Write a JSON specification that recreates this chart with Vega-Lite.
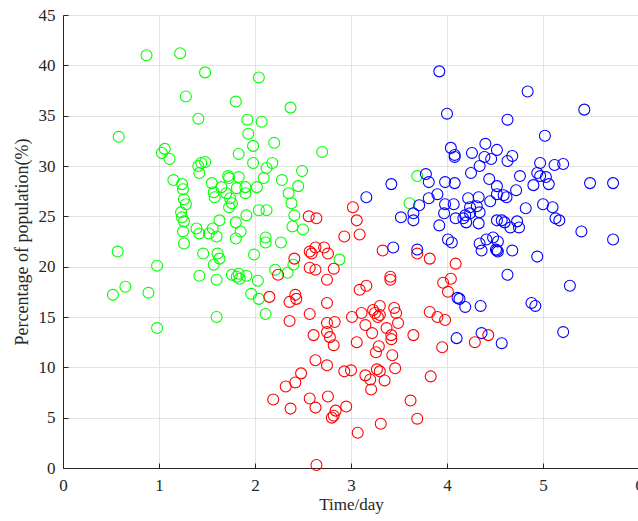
{
  "$schema": "https://vega.github.io/schema/vega-lite/v6.json",
  "width": 576,
  "height": 453,
  "autosize": {"type": "none"},
  "padding": {"left": 63, "top": 15, "right": 0, "bottom": 53},
  "background": "white",
  "config": {
    "view": {"stroke": null},
    "font": "Liberation Serif"
  },
  "datasets": {
    "pts": [
      {"x":0.87,"y":41.0,"c":"g"},{"x":1.22,"y":41.2,"c":"g"},{"x":1.28,"y":36.9,"c":"g"},{"x":0.58,"y":32.9,"c":"g"},
      {"x":1.06,"y":31.7,"c":"g"},{"x":1.03,"y":31.3,"c":"g"},{"x":1.11,"y":30.7,"c":"g"},{"x":1.15,"y":28.6,"c":"g"},
      {"x":1.24,"y":28.2,"c":"g"},{"x":1.25,"y":27.7,"c":"g"},{"x":1.48,"y":39.3,"c":"g"},{"x":2.04,"y":38.8,"c":"g"},
      {"x":1.80,"y":36.4,"c":"g"},{"x":2.37,"y":35.8,"c":"g"},{"x":1.41,"y":34.7,"c":"g"},{"x":1.92,"y":34.6,"c":"g"},
      {"x":2.07,"y":34.4,"c":"g"},{"x":1.93,"y":33.2,"c":"g"},{"x":2.20,"y":32.3,"c":"g"},{"x":1.98,"y":32.0,"c":"g"},
      {"x":2.70,"y":31.4,"c":"g"},{"x":1.83,"y":31.2,"c":"g"},{"x":1.41,"y":30.0,"c":"g"},{"x":1.48,"y":30.4,"c":"g"},
      {"x":1.44,"y":30.3,"c":"g"},{"x":1.42,"y":29.3,"c":"g"},{"x":1.98,"y":30.3,"c":"g"},{"x":2.18,"y":30.3,"c":"g"},
      {"x":2.12,"y":29.8,"c":"g"},{"x":2.49,"y":29.5,"c":"g"},{"x":1.72,"y":29.0,"c":"g"},{"x":1.73,"y":28.8,"c":"g"},
      {"x":1.83,"y":28.9,"c":"g"},{"x":2.09,"y":28.8,"c":"g"},{"x":2.28,"y":28.6,"c":"g"},{"x":1.55,"y":28.3,"c":"g"},
      {"x":2.45,"y":28.0,"c":"g"},{"x":1.65,"y":27.9,"c":"g"},{"x":1.90,"y":27.9,"c":"g"},{"x":2.02,"y":27.9,"c":"g"},
      {"x":1.26,"y":26.7,"c":"g"},{"x":1.28,"y":26.2,"c":"g"},{"x":1.23,"y":25.4,"c":"g"},{"x":1.24,"y":24.9,"c":"g"},
      {"x":1.26,"y":24.5,"c":"g"},{"x":1.25,"y":23.5,"c":"g"},{"x":1.26,"y":22.3,"c":"g"},{"x":0.57,"y":21.5,"c":"g"},
      {"x":0.98,"y":20.1,"c":"g"},{"x":0.65,"y":18.0,"c":"g"},{"x":0.52,"y":17.2,"c":"g"},{"x":0.89,"y":17.4,"c":"g"},
      {"x":0.98,"y":13.9,"c":"g"},{"x":1.57,"y":27.4,"c":"g"},{"x":1.58,"y":26.9,"c":"g"},{"x":1.70,"y":27.3,"c":"g"},
      {"x":1.74,"y":26.8,"c":"g"},{"x":1.76,"y":26.3,"c":"g"},{"x":1.73,"y":25.9,"c":"g"},{"x":1.81,"y":27.8,"c":"g"},
      {"x":1.90,"y":27.3,"c":"g"},{"x":2.35,"y":27.3,"c":"g"},{"x":2.38,"y":26.3,"c":"g"},{"x":2.04,"y":25.6,"c":"g"},
      {"x":2.12,"y":25.6,"c":"g"},{"x":1.91,"y":25.1,"c":"g"},{"x":2.41,"y":25.1,"c":"g"},{"x":1.63,"y":24.6,"c":"g"},
      {"x":1.80,"y":24.4,"c":"g"},{"x":2.39,"y":24.0,"c":"g"},{"x":2.50,"y":23.7,"c":"g"},{"x":1.39,"y":23.8,"c":"g"},
      {"x":1.42,"y":23.3,"c":"g"},{"x":1.56,"y":23.8,"c":"g"},{"x":1.52,"y":23.3,"c":"g"},{"x":1.60,"y":23.0,"c":"g"},
      {"x":1.85,"y":23.5,"c":"g"},{"x":1.80,"y":22.8,"c":"g"},{"x":2.11,"y":22.9,"c":"g"},{"x":2.11,"y":22.4,"c":"g"},
      {"x":2.27,"y":22.4,"c":"g"},{"x":1.46,"y":21.3,"c":"g"},{"x":1.61,"y":21.3,"c":"g"},{"x":1.63,"y":20.8,"c":"g"},
      {"x":1.99,"y":21.2,"c":"g"},{"x":1.57,"y":20.2,"c":"g"},{"x":2.21,"y":19.7,"c":"g"},{"x":2.34,"y":19.4,"c":"g"},
      {"x":2.40,"y":20.2,"c":"g"},{"x":1.42,"y":19.1,"c":"g"},{"x":1.60,"y":18.7,"c":"g"},{"x":1.76,"y":19.2,"c":"g"},
      {"x":1.81,"y":19.0,"c":"g"},{"x":1.83,"y":19.3,"c":"g"},{"x":1.84,"y":18.8,"c":"g"},{"x":1.91,"y":19.1,"c":"g"},
      {"x":2.03,"y":18.6,"c":"g"},{"x":1.96,"y":17.3,"c":"g"},{"x":2.04,"y":16.8,"c":"g"},{"x":1.60,"y":15.0,"c":"g"},
      {"x":2.11,"y":15.3,"c":"g"},{"x":2.88,"y":20.7,"c":"g"},{"x":3.61,"y":26.3,"c":"g"},{"x":3.69,"y":29.0,"c":"g"},

      {"x":2.56,"y":25.0,"c":"r"},{"x":2.64,"y":24.8,"c":"r"},{"x":2.57,"y":21.5,"c":"r"},{"x":2.59,"y":21.3,"c":"r"},
      {"x":2.63,"y":21.9,"c":"r"},{"x":2.72,"y":21.9,"c":"r"},{"x":2.76,"y":21.3,"c":"r"},{"x":2.41,"y":20.8,"c":"r"},
      {"x":2.57,"y":19.9,"c":"r"},{"x":2.63,"y":19.7,"c":"r"},{"x":2.24,"y":19.2,"c":"r"},{"x":2.75,"y":18.7,"c":"r"},
      {"x":2.15,"y":17.0,"c":"r"},{"x":2.42,"y":17.2,"c":"r"},{"x":2.43,"y":16.8,"c":"r"},{"x":2.36,"y":16.5,"c":"r"},
      {"x":2.75,"y":16.4,"c":"r"},{"x":2.57,"y":15.3,"c":"r"},{"x":2.36,"y":14.6,"c":"r"},{"x":2.75,"y":14.4,"c":"r"},
      {"x":2.61,"y":13.2,"c":"r"},{"x":2.75,"y":13.5,"c":"r"},{"x":3.02,"y":25.9,"c":"r"},{"x":3.06,"y":24.6,"c":"r"},
      {"x":3.09,"y":23.2,"c":"r"},{"x":2.93,"y":23.0,"c":"r"},{"x":3.33,"y":21.6,"c":"r"},{"x":3.69,"y":21.3,"c":"r"},
      {"x":3.82,"y":20.8,"c":"r"},{"x":2.82,"y":19.8,"c":"r"},{"x":4.09,"y":20.3,"c":"r"},{"x":3.41,"y":19.0,"c":"r"},
      {"x":3.41,"y":18.7,"c":"r"},{"x":3.09,"y":17.7,"c":"r"},{"x":3.16,"y":18.1,"c":"r"},{"x":3.96,"y":18.4,"c":"r"},
      {"x":4.04,"y":18.8,"c":"r"},{"x":4.01,"y":17.5,"c":"r"},{"x":3.30,"y":16.1,"c":"r"},{"x":3.23,"y":15.7,"c":"r"},
      {"x":3.25,"y":15.4,"c":"r"},{"x":3.28,"y":15.0,"c":"r"},{"x":3.30,"y":15.2,"c":"r"},{"x":3.45,"y":15.9,"c":"r"},
      {"x":3.47,"y":15.4,"c":"r"},{"x":3.49,"y":14.4,"c":"r"},{"x":3.11,"y":15.4,"c":"r"},{"x":3.01,"y":15.0,"c":"r"},
      {"x":2.83,"y":14.5,"c":"r"},{"x":3.15,"y":14.2,"c":"r"},{"x":3.37,"y":13.9,"c":"r"},{"x":3.82,"y":15.5,"c":"r"},
      {"x":3.90,"y":15.0,"c":"r"},{"x":3.98,"y":14.7,"c":"r"},{"x":2.78,"y":13.0,"c":"r"},{"x":3.22,"y":13.4,"c":"r"},
      {"x":3.42,"y":13.2,"c":"r"},{"x":3.65,"y":13.2,"c":"r"},{"x":2.82,"y":12.2,"c":"r"},{"x":3.06,"y":12.5,"c":"r"},
      {"x":3.42,"y":12.8,"c":"r"},{"x":3.29,"y":12.1,"c":"r"},{"x":3.26,"y":11.5,"c":"r"},{"x":3.43,"y":11.2,"c":"r"},
      {"x":3.95,"y":12.0,"c":"r"},{"x":2.75,"y":10.2,"c":"r"},{"x":2.93,"y":9.6,"c":"r"},{"x":3.00,"y":9.7,"c":"r"},
      {"x":3.15,"y":9.2,"c":"r"},{"x":3.20,"y":8.8,"c":"r"},{"x":3.27,"y":9.8,"c":"r"},{"x":3.30,"y":9.6,"c":"r"},
      {"x":3.46,"y":9.9,"c":"r"},{"x":3.35,"y":8.7,"c":"r"},{"x":3.21,"y":7.8,"c":"r"},{"x":3.83,"y":9.1,"c":"r"},
      {"x":2.76,"y":7.1,"c":"r"},{"x":2.95,"y":6.1,"c":"r"},{"x":2.84,"y":5.7,"c":"r"},{"x":2.82,"y":5.2,"c":"r"},
      {"x":2.80,"y":5.0,"c":"r"},{"x":3.62,"y":6.7,"c":"r"},{"x":3.69,"y":4.9,"c":"r"},{"x":3.31,"y":4.4,"c":"r"},
      {"x":3.07,"y":3.5,"c":"r"},{"x":2.63,"y":10.7,"c":"r"},{"x":2.48,"y":9.4,"c":"r"},{"x":2.42,"y":8.5,"c":"r"},
      {"x":2.32,"y":8.1,"c":"r"},{"x":2.19,"y":6.8,"c":"r"},{"x":2.37,"y":5.9,"c":"r"},{"x":2.57,"y":6.9,"c":"r"},
      {"x":2.63,"y":6.0,"c":"r"},{"x":2.64,"y":0.3,"c":"r"},{"x":4.29,"y":12.5,"c":"r"},{"x":4.43,"y":13.2,"c":"r"},

      {"x":3.92,"y":39.4,"c":"b"},{"x":4.00,"y":35.2,"c":"b"},{"x":4.04,"y":31.8,"c":"b"},{"x":4.08,"y":31.1,"c":"b"},
      {"x":4.08,"y":30.9,"c":"b"},{"x":4.40,"y":32.2,"c":"b"},{"x":4.26,"y":31.3,"c":"b"},{"x":4.52,"y":31.6,"c":"b"},
      {"x":4.39,"y":30.9,"c":"b"},{"x":4.46,"y":30.7,"c":"b"},{"x":4.34,"y":30.0,"c":"b"},{"x":4.25,"y":29.3,"c":"b"},
      {"x":4.44,"y":28.7,"c":"b"},{"x":4.52,"y":28.0,"c":"b"},{"x":3.78,"y":29.2,"c":"b"},{"x":3.81,"y":28.4,"c":"b"},
      {"x":3.98,"y":28.4,"c":"b"},{"x":4.08,"y":28.3,"c":"b"},{"x":3.42,"y":28.2,"c":"b"},{"x":3.90,"y":27.2,"c":"b"},
      {"x":3.16,"y":26.9,"c":"b"},{"x":3.81,"y":26.8,"c":"b"},{"x":3.71,"y":26.1,"c":"b"},{"x":3.98,"y":26.2,"c":"b"},
      {"x":4.07,"y":26.2,"c":"b"},{"x":4.22,"y":26.8,"c":"b"},{"x":4.33,"y":26.9,"c":"b"},{"x":4.45,"y":26.5,"c":"b"},
      {"x":4.52,"y":27.2,"c":"b"},{"x":4.24,"y":25.9,"c":"b"},{"x":4.31,"y":26.0,"c":"b"},{"x":3.65,"y":25.3,"c":"b"},
      {"x":3.52,"y":24.9,"c":"b"},{"x":3.65,"y":24.6,"c":"b"},{"x":3.97,"y":25.3,"c":"b"},{"x":3.92,"y":24.1,"c":"b"},
      {"x":4.09,"y":24.8,"c":"b"},{"x":4.17,"y":24.8,"c":"b"},{"x":4.20,"y":24.4,"c":"b"},{"x":4.19,"y":25.1,"c":"b"},
      {"x":4.24,"y":25.3,"c":"b"},{"x":4.34,"y":25.4,"c":"b"},{"x":4.33,"y":24.3,"c":"b"},{"x":4.52,"y":24.6,"c":"b"},
      {"x":4.01,"y":22.7,"c":"b"},{"x":4.05,"y":22.4,"c":"b"},{"x":3.44,"y":21.9,"c":"b"},{"x":3.69,"y":21.7,"c":"b"},
      {"x":4.34,"y":22.3,"c":"b"},{"x":4.36,"y":21.6,"c":"b"},{"x":4.41,"y":22.7,"c":"b"},{"x":4.48,"y":22.9,"c":"b"},
      {"x":4.52,"y":21.6,"c":"b"},{"x":4.11,"y":16.9,"c":"b"},{"x":4.13,"y":16.8,"c":"b"},{"x":4.19,"y":16.0,"c":"b"},
      {"x":4.35,"y":16.1,"c":"b"},{"x":4.10,"y":12.9,"c":"b"},{"x":4.36,"y":13.4,"c":"b"},{"x":4.84,"y":37.4,"c":"b"},
      {"x":5.43,"y":35.6,"c":"b"},{"x":4.63,"y":34.6,"c":"b"},{"x":5.02,"y":33.0,"c":"b"},{"x":4.63,"y":30.5,"c":"b"},
      {"x":4.68,"y":31.0,"c":"b"},{"x":4.97,"y":30.3,"c":"b"},{"x":5.12,"y":30.1,"c":"b"},{"x":5.21,"y":30.2,"c":"b"},
      {"x":4.76,"y":29.0,"c":"b"},{"x":4.94,"y":29.3,"c":"b"},{"x":4.97,"y":29.0,"c":"b"},{"x":5.03,"y":28.9,"c":"b"},
      {"x":4.90,"y":28.1,"c":"b"},{"x":5.06,"y":28.2,"c":"b"},{"x":5.49,"y":28.3,"c":"b"},{"x":5.73,"y":28.3,"c":"b"},
      {"x":4.72,"y":27.6,"c":"b"},{"x":4.59,"y":27.1,"c":"b"},{"x":4.62,"y":26.9,"c":"b"},{"x":4.82,"y":25.8,"c":"b"},
      {"x":5.00,"y":26.2,"c":"b"},{"x":5.10,"y":25.9,"c":"b"},{"x":5.13,"y":24.8,"c":"b"},{"x":5.17,"y":24.6,"c":"b"},
      {"x":4.57,"y":24.6,"c":"b"},{"x":4.60,"y":24.4,"c":"b"},{"x":4.66,"y":23.9,"c":"b"},{"x":4.73,"y":24.5,"c":"b"},
      {"x":4.75,"y":23.9,"c":"b"},{"x":5.40,"y":23.5,"c":"b"},{"x":5.73,"y":22.7,"c":"b"},{"x":4.53,"y":22.5,"c":"b"},
      {"x":4.51,"y":21.7,"c":"b"},{"x":4.53,"y":21.5,"c":"b"},{"x":4.68,"y":21.6,"c":"b"},{"x":4.94,"y":21.0,"c":"b"},
      {"x":4.63,"y":19.2,"c":"b"},{"x":5.28,"y":18.1,"c":"b"},{"x":4.88,"y":16.4,"c":"b"},{"x":4.92,"y":16.1,"c":"b"},
      {"x":5.21,"y":13.5,"c":"b"},{"x":4.57,"y":12.4,"c":"b"}
    ]
  },
  "data": {"name": "pts"},
  "mark": {"type": "point", "shape": "circle", "filled": false, "size": 120, "strokeWidth": 1.1, "opacity": 1},
  "encoding": {
    "x": {
      "field": "x", "type": "quantitative",
      "scale": {"domain": [0, 6], "nice": false, "zero": false},
      "axis": {
        "title": "Time/day", "values": [0,1,2,3,4,5,6],
        "grid": true, "gridColor": "#e3e3e3", "gridWidth": 1,
        "domainColor": "#262626", "domainWidth": 1,
        "tickColor": "#262626", "tickSize": -5, "labelPadding": 14,
        "labelFlush": false, "labelOverlap": false,
        "labelFont": "Liberation Serif", "labelFontSize": 17, "labelColor": "#262626",
        "titleFont": "Liberation Serif", "titleFontSize": 17, "titleFontWeight": "normal", "titleColor": "#262626",
        "titlePadding": 3
      }
    },
    "y": {
      "field": "y", "type": "quantitative",
      "scale": {"domain": [0, 45], "nice": false, "zero": false},
      "axis": {
        "title": "Percentage of population(%)", "values": [0,5,10,15,20,25,30,35,40,45],
        "grid": true, "gridColor": "#e3e3e3", "gridWidth": 1,
        "domainColor": "#262626", "domainWidth": 1,
        "tickColor": "#262626", "tickSize": -5, "labelPadding": 13,
        "labelFlush": false, "labelOverlap": false,
        "labelFont": "Liberation Serif", "labelFontSize": 17, "labelColor": "#262626",
        "titleFont": "Liberation Serif", "titleFontSize": 18, "titleFontWeight": "normal", "titleColor": "#262626",
        "titlePadding": 7
      }
    },
    "color": {
      "field": "c", "type": "nominal",
      "scale": {"domain": ["g","r","b"], "range": ["#00ff00","#ff0000","#0000ff"]},
      "legend": null
    }
  }
}
